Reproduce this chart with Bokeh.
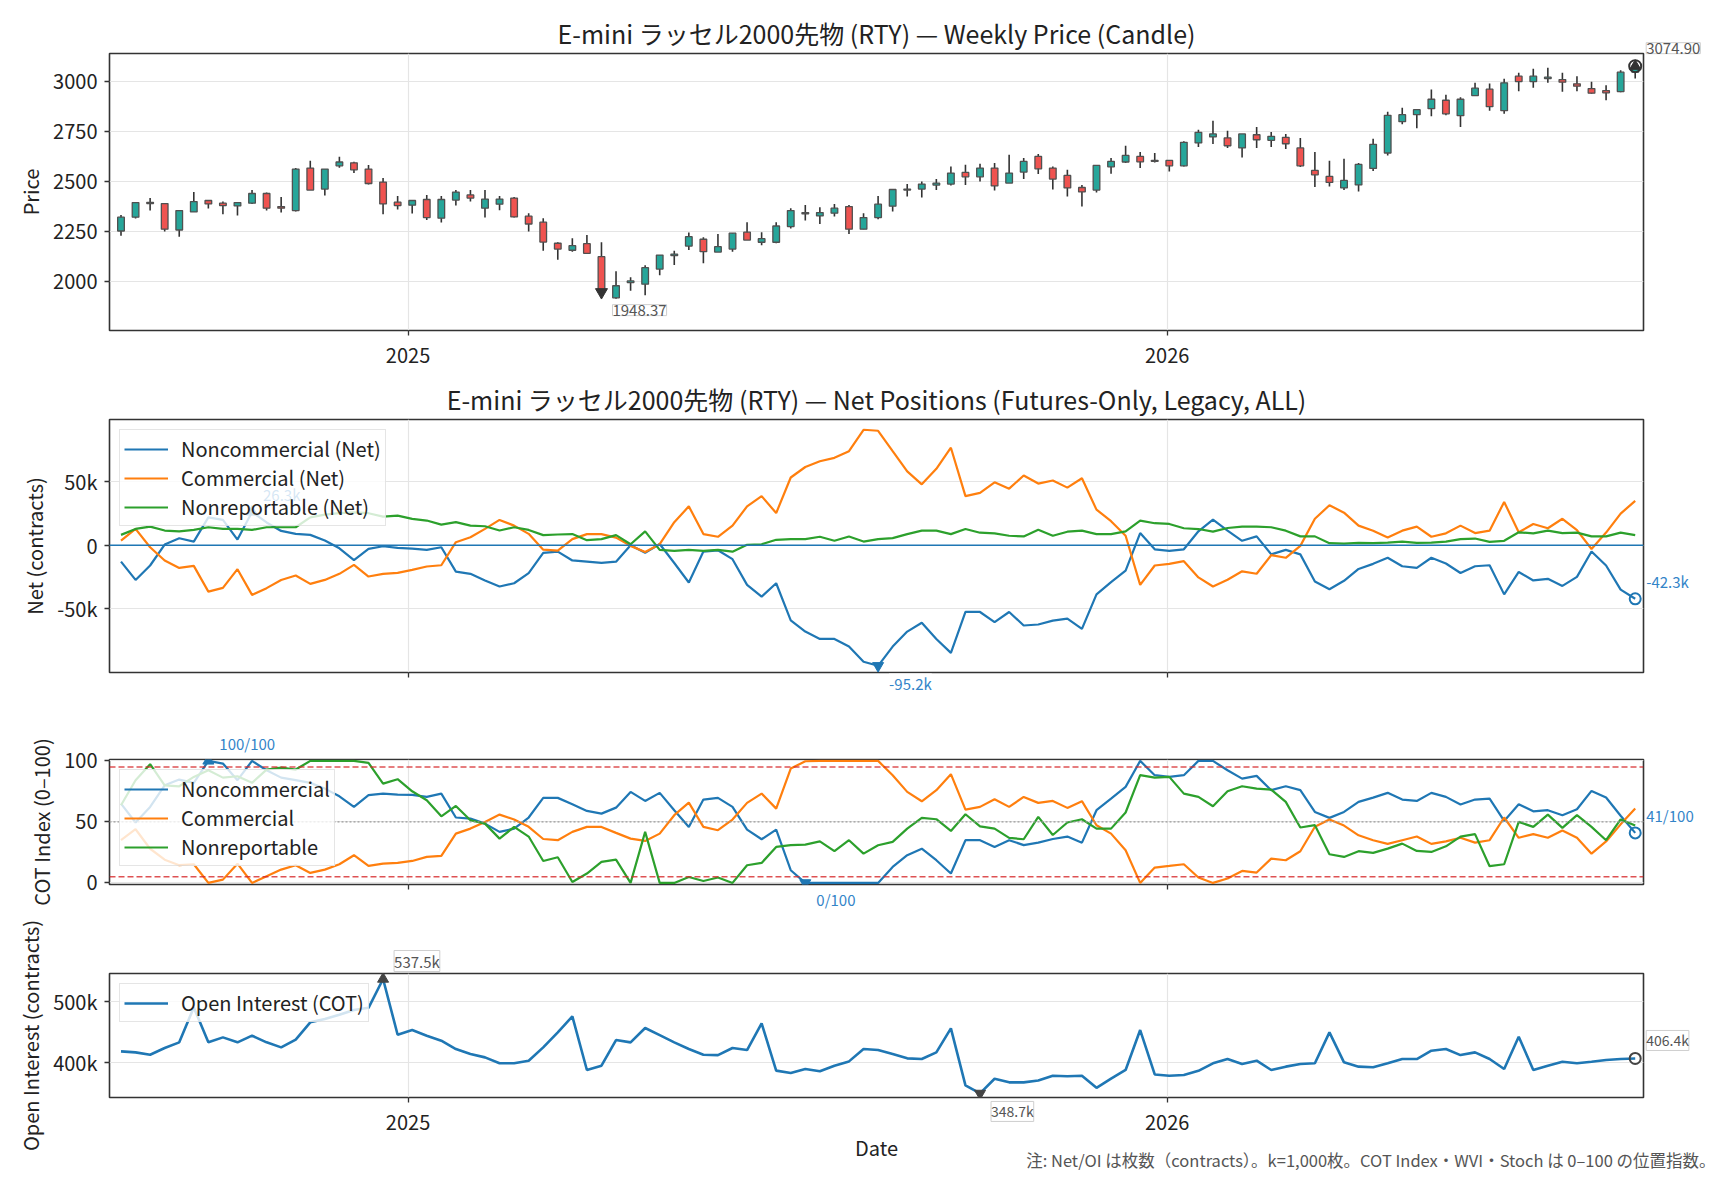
import numpy as np
import pandas as pd
from bokeh.plotting import figure
from bokeh.layouts import column
from bokeh.models import (Range1d, FixedTicker, Label, Legend, LegendItem, Span,
                          DatetimeTickFormatter, CustomJSTickFormatter)
from bokeh.embed import file_html
from bokeh.resources import INLINE

FONT = "Noto Sans CJK JP"
BLUE, ORANGE, GREEN = "#1f77b4", "#ff7f0e", "#2ca02c"
UP, DOWN = "#26a69a", "#ef5350"
LBL_BLUE = "#3384c8"

# weekly bars
week_start = "2024-08-16"
n_weeks = 105
year_ticks = ["2025-01-01", "2026-01-01"]

price_open = [2253, 2322, 2396, 2390, 2258, 2348, 2405, 2392, 2378, 2392,
              2440, 2375, 2355, 2567, 2462, 2578, 2593, 2562, 2497, 2397,
              2382, 2410, 2317, 2407, 2433, 2367, 2387, 2417, 2327, 2297,
              2192, 2157, 2190, 2125, 1920, 1996, 1988, 2063, 2130, 2178,
              2212, 2148, 2163, 2247, 2197, 2197, 2275, 2345, 2328, 2342,
              2375, 2262, 2320, 2377, 2457, 2462, 2482, 2487, 2545, 2523,
              2567, 2492, 2547, 2625, 2567, 2530, 2470, 2457, 2573, 2597,
              2625, 2605, 2605, 2578, 2692, 2722, 2717, 2667, 2733, 2705,
              2720, 2667, 2555, 2525, 2468, 2483, 2565, 2642, 2798, 2833,
              2863, 2905, 2828, 2928, 2960, 2853, 3025, 2998, 3013, 3008,
              2987, 2963, 2953, 2948, 3045]
price_high = [2333, 2398, 2417, 2393, 2355, 2447, 2408, 2400, 2395, 2458,
              2445, 2422, 2567, 2603, 2562, 2623, 2598, 2582, 2517, 2428,
              2405, 2433, 2428, 2458, 2458, 2458, 2428, 2422, 2342, 2317,
              2197, 2217, 2233, 2197, 2053, 2022, 2082, 2133, 2155, 2245,
              2222, 2238, 2242, 2297, 2247, 2297, 2367, 2383, 2372, 2388,
              2383, 2342, 2428, 2460, 2487, 2500, 2512, 2575, 2583, 2588,
              2592, 2633, 2617, 2637, 2575, 2558, 2483, 2580, 2617, 2678,
              2647, 2642, 2605, 2700, 2758, 2803, 2753, 2737, 2772, 2747,
              2737, 2717, 2647, 2603, 2613, 2592, 2713, 2847, 2867, 2858,
              2958, 2932, 2920, 2992, 2988, 3012, 3042, 3062, 3067, 3042,
              3025, 2997, 2980, 3055, 3082]
price_low = [2230, 2315, 2355, 2250, 2225, 2348, 2365, 2337, 2330, 2388,
             2355, 2345, 2350, 2457, 2430, 2568, 2542, 2485, 2337, 2360,
             2340, 2308, 2295, 2380, 2400, 2320, 2357, 2320, 2250, 2155,
             2110, 2150, 2138, 1940, 1915, 1955, 1933, 2033, 2083, 2158,
             2092, 2148, 2150, 2208, 2182, 2192, 2265, 2305, 2288, 2325,
             2238, 2262, 2312, 2350, 2425, 2420, 2458, 2480, 2483, 2500,
             2455, 2492, 2512, 2537, 2460, 2425, 2375, 2445, 2538, 2592,
             2567, 2595, 2550, 2575, 2672, 2687, 2667, 2620, 2667, 2672,
             2662, 2572, 2472, 2475, 2457, 2450, 2552, 2630, 2785, 2765,
             2825, 2830, 2772, 2928, 2852, 2837, 2950, 2967, 2992, 2947,
             2950, 2937, 2905, 2945, 3013]
price_close = [2322, 2395, 2390, 2262, 2355, 2400, 2388, 2380, 2395, 2440,
               2367, 2367, 2562, 2457, 2562, 2597, 2558, 2490, 2388, 2380,
               2405, 2320, 2410, 2447, 2417, 2412, 2412, 2323, 2288, 2198,
               2163, 2180, 2142, 1948.37, 1980, 2004, 2070, 2133, 2138, 2225,
               2150, 2175, 2242, 2208, 2215, 2278, 2355, 2338, 2345, 2367,
               2262, 2320, 2387, 2460, 2462, 2487, 2492, 2542, 2523, 2567,
               2478, 2542, 2600, 2563, 2512, 2468, 2448, 2580, 2600, 2630,
               2598, 2600, 2578, 2695, 2745, 2737, 2678, 2737, 2708, 2725,
               2688, 2578, 2533, 2495, 2505, 2585, 2685, 2830, 2833, 2858,
               2910, 2837, 2910, 2965, 2873, 2992, 2998, 3025, 3020, 2995,
               2975, 2940, 2942, 3045, 3074.90]

# net positions, thousand contracts
noncomm_net = [-12.9, -27.4, -16.0, 0.5, 5.5, 2.9, 22.0, 20.0, 4.5, 26.3,
               18.0, 11.3, 9.0, 8.2, 3.7, -2.4, -11.8, -2.9, -0.8, -2.1,
               -2.6, -3.7, -1.6, -20.8, -22.6, -27.9, -32.6, -30.0, -22.0, -6.0,
               -5.0, -12.0, -13.0, -14.0, -13.0, 0.0, -6.0, 1.0, -14.0, -29.4,
               -5.0, -4.0, -11.0, -31.3, -40.6, -30.0, -59.4, -68.2, -74.0, -74.0,
               -80.0, -92.0, -95.2, -80.0, -68.2, -61.2, -74.0, -85.0, -52.7, -52.7,
               -60.7, -52.7, -63.4, -62.6, -59.5, -58.0, -66.0, -38.8, -29.1, -20.1,
               9.6, -3.2, -4.5, -3.2, 11.0, 20.3, 11.5, 3.5, 7.0, -7.2,
               -3.7, -7.2, -28.6, -34.8, -28.1, -18.7, -14.7, -9.9, -16.6, -17.9,
               -9.9, -14.4, -21.9, -16.6, -15.8, -38.8, -21.1, -27.8, -26.5, -32.1,
               -25.0, -5.0, -16.0, -35.0, -42.3]
comm_net = [3.7, 12.9, -1.6, -12.1, -17.9, -16.3, -36.6, -33.7, -18.9, -39.2,
            -33.9, -27.4, -23.9, -30.5, -27.4, -22.6, -15.5, -24.7, -22.6, -21.8,
            -19.5, -16.8, -15.8, 2.4, 6.3, 12.9, 20.0, 15.5, 9.0, -3.5,
            -4.3, 4.8, 8.8, 8.8, 6.0, -0.5, -5.3, 0.8, 18.2, 30.7,
            8.8, 6.7, 15.5, 30.7, 38.8, 25.4, 53.5, 61.8, 66.3, 69.0,
            74.3, 91.2, 90.4, 74.3, 58.3, 48.1, 60.4, 77.0, 38.8, 41.4,
            49.7, 44.7, 55.1, 48.7, 51.1, 45.5, 52.9, 28.1, 19.0, 7.5,
            -31.3, -16.0, -14.7, -12.6, -25.4, -32.6, -27.3, -20.6, -22.5, -7.8,
            -9.9, -0.5, 20.9, 31.6, 25.7, 15.5, 11.5, 6.1, 11.5, 14.7,
            6.7, 9.4, 15.5, 9.6, 11.5, 34.2, 10.2, 16.8, 13.4, 20.9,
            12.0, -3.0, 10.0, 25.0, 35.0]
nonrep_net = [8.2, 12.9, 14.7, 11.6, 11.0, 12.1, 14.2, 12.9, 12.9, 12.1,
              14.2, 14.2, 14.2, 22.0, 24.2, 25.3, 26.0, 25.3, 22.6, 23.4,
              20.8, 19.5, 16.3, 18.2, 15.5, 15.0, 11.6, 14.2, 12.1, 8.0,
              8.5, 8.8, 4.0, 4.8, 8.0, 0.8, 11.0, -3.7, -4.5, -3.7,
              -4.5, -3.7, -5.1, 0.3, 0.8, 4.3, 4.8, 4.8, 6.7, 3.5,
              6.9, 2.9, 4.8, 5.6, 8.8, 11.5, 11.5, 8.8, 12.8, 9.9,
              9.4, 7.5, 7.0, 12.3, 7.5, 10.7, 11.5, 8.8, 8.8, 11.0,
              19.5, 17.4, 16.8, 13.4, 12.8, 10.7, 13.6, 14.7, 14.7, 14.2,
              11.5, 7.0, 7.0, 1.6, 1.3, 1.9, 1.6, 2.1, 2.9, 1.9,
              2.1, 2.9, 4.8, 5.3, 2.7, 3.5, 10.2, 9.4, 11.5, 9.6,
              10.0, 7.0, 7.0, 10.0, 8.0]

# COT index 0-100
noncomm_idx = [65.0, 49.5, 62.3, 80.0, 84.7, 82.0, 100.0, 97.8, 84.2, 100.0,
               92.3, 86.3, 84.2, 82.0, 77.3, 71.0, 62.3, 71.9, 73.2, 72.4,
               72.1, 70.5, 73.2, 53.6, 52.7, 48.6, 41.8, 44.5, 53.6, 69.7,
               69.7, 64.5, 59.0, 56.8, 61.7, 74.6, 67.2, 73.8, 59.6, 45.9,
               68.3, 69.7, 62.3, 43.7, 35.8, 43.7, 10.4, 0.0, 0.0, 0.0,
               0.0, 0.0, 0.0, 13.1, 22.7, 28.1, 18.6, 7.7, 35.0, 35.0,
               29.5, 35.0, 31.0, 33.0, 36.0, 38.0, 33.0, 59.6, 69.1, 78.7,
               100.0, 88.3, 86.9, 88.3, 100.0, 100.0, 92.3, 85.5, 87.7, 76.0,
               79.2, 76.0, 58.2, 53.3, 58.2, 66.4, 69.9, 73.8, 68.3, 67.2,
               73.8, 70.5, 64.2, 68.3, 69.1, 50.8, 64.5, 58.7, 59.6, 55.5,
               60.4, 75.4, 70.0, 55.0, 41.0]
comm_idx = [35.0, 44.0, 28.0, 19.0, 14.5, 15.3, 0.0, 2.7, 15.8, 0.0,
            5.5, 10.9, 14.5, 8.2, 10.9, 15.3, 22.7, 13.9, 15.8, 16.4,
            18.0, 21.3, 22.1, 40.4, 44.5, 50.0, 56.0, 52.0, 46.0, 36.0,
            35.0, 41.8, 45.9, 45.9, 41.0, 36.3, 34.4, 40.4, 55.5, 65.8,
            45.9, 43.2, 51.9, 65.6, 73.2, 60.9, 93.7, 99.7, 100.0, 100.0,
            100.0, 100.0, 100.0, 88.3, 74.6, 66.9, 76.0, 89.1, 60.1, 62.3,
            68.6, 62.3, 70.5, 65.6, 67.2, 61.5, 67.0, 47.3, 40.4, 26.8,
            0.0, 12.6, 13.9, 15.3, 4.4, 0.0, 3.6, 9.8, 8.5, 19.9,
            18.6, 26.0, 46.0, 52.0, 47.0, 39.0, 35.0, 32.0, 35.0, 38.0,
            32.0, 34.0, 37.0, 33.0, 35.0, 53.6, 37.0, 40.0, 37.0, 43.0,
            37.0, 24.0, 34.0, 48.0, 61.0]
nonrep_idx = [63.7, 84.2, 97.3, 80.0, 79.2, 86.9, 92.3, 86.3, 87.4, 82.0,
              92.9, 94.5, 92.9, 100.0, 100.0, 100.0, 100.0, 98.4, 81.4, 85.0,
              75.1, 67.8, 54.6, 63.1, 51.4, 48.6, 36.3, 45.9, 38.0, 18.0,
              21.0, 0.8, 7.7, 17.2, 19.1, 0.0, 41.8, 0.0, 0.0, 4.9,
              1.6, 4.4, 0.0, 14.5, 16.4, 29.5, 30.9, 31.4, 34.0, 26.0,
              35.0, 24.0, 30.9, 33.6, 44.5, 53.3, 52.2, 42.6, 56.3, 46.4,
              44.5, 36.9, 35.8, 54.1, 39.3, 49.5, 52.2, 44.5, 44.5, 57.7,
              88.3, 86.3, 86.9, 73.2, 70.5, 62.8, 75.1, 79.2, 77.3, 76.5,
              66.4, 45.4, 47.3, 23.5, 21.3, 26.0, 24.6, 28.1, 32.2, 26.2,
              25.4, 30.0, 38.0, 40.0, 13.7, 15.3, 50.0, 45.9, 56.0, 45.1,
              55.5, 45.9, 35.0, 52.0, 47.0]

# open interest, thousand contracts
open_interest = [418.1, 416.5, 412.6, 423.6, 433.0, 490.7, 433.0, 441.2, 433.0, 444.0,
                 433.0, 424.7, 437.4, 466.0, 471.4, 478.6, 486.3, 490.0, 537.5, 445.6,
                 453.3, 444.0, 435.7, 422.0, 413.7, 408.2, 398.4, 398.4, 402.7, 424.7,
                 449.5, 475.8, 387.4, 394.5, 436.8, 433.0, 456.6, 445.0, 433.0, 422.0,
                 412.6, 412.0, 423.6, 420.3, 464.3, 386.3, 382.4, 389.0, 385.2, 394.5,
                 401.6, 422.0, 420.3, 413.7, 406.6, 405.5, 416.5, 456.0, 362.0, 348.7,
                 373.0, 367.0, 367.0, 370.0, 378.0, 377.0, 378.0, 358.0, 373.0, 387.4,
                 453.3, 380.0, 378.0, 379.0, 386.0, 398.4, 405.5, 397.3, 402.7, 387.4,
                 392.9, 397.3, 398.4, 449.5, 400.0, 392.9, 391.8, 398.4, 405.5, 405.5,
                 419.2, 422.0, 412.0, 416.5, 405.5, 389.0, 442.3, 387.4, 394.5, 401.1,
                 398.4, 401.0, 404.0, 405.5, 406.4]

footnote = "注: Net/OI は枚数（contracts）。k=1,000枚。COT Index・WVI・Stoch は 0–100 の位置指数。"

dates = pd.date_range(week_start, periods=n_weeks, freq="7D")
x = dates.values.astype("datetime64[ms]").astype(np.int64).astype(float)
DAY = 86400000.0
WEEK = 7 * DAY
x_range = Range1d(x[0] - 0.79 * WEEK, x[-1] + 0.57 * WEEK)
year_ms = [float(pd.Timestamp(t).value // 10**6) for t in year_ticks]

kfmt = "return tick == 0 ? '0' : tick + 'k';"


def make_fig(frame_h, top, bottom, y_lo, y_hi, yticks, title=None, xlabels=False):
    p = figure(frame_width=1534, frame_height=frame_h, x_axis_type="datetime",
               x_range=x_range, y_range=Range1d(y_lo, y_hi),
               min_border_left=109, min_border_right=85,
               min_border_top=top, min_border_bottom=bottom,
               toolbar_location=None, output_backend="svg", title=title,
               background_fill_color="white", border_fill_color="white")
    if title:
        p.title.text_font = FONT
        p.title.text_font_size = "25px"
        p.title.text_font_style = "normal"
        p.title.text_color = "#222222"
        p.title.align = "center"
        p.title.standoff = 6
    p.outline_line_color = "#333333"
    p.outline_line_width = 1.6
    for ax in list(p.xaxis) + list(p.yaxis):
        ax.axis_line_color = None
        ax.major_tick_line_color = "#333333"
        ax.major_tick_line_width = 1.3
        ax.major_tick_in = 0
        ax.major_tick_out = 5
        ax.minor_tick_line_color = None
        ax.major_label_text_font = FONT
        ax.major_label_text_font_size = "20px"
        ax.major_label_text_color = "#222222"
        ax.axis_label_text_font = FONT
        ax.axis_label_text_font_size = "20px"
        ax.axis_label_text_font_style = "normal"
        ax.axis_label_text_color = "#222222"
    if xlabels:
        p.xaxis.ticker = FixedTicker(ticks=year_ms)
        p.xaxis.formatter = DatetimeTickFormatter(
            milliseconds="%Y", seconds="%Y", minsec="%Y", minutes="%Y", hourmin="%Y",
            hours="%Y", days="%Y", months="%Y", years="%Y")
        p.xaxis.major_label_standoff = 12
    else:
        # tick marks only, no labels
        p.xaxis.ticker = FixedTicker(ticks=[], minor_ticks=year_ms)
        p.xaxis.minor_tick_line_color = "#333333"
        p.xaxis.minor_tick_line_width = 1.3
        p.xaxis.minor_tick_in = 0
        p.xaxis.minor_tick_out = 5
    p.xgrid.ticker = FixedTicker(ticks=year_ms)
    p.yaxis.ticker = FixedTicker(ticks=yticks)
    p.yaxis.major_label_standoff = 7
    p.xgrid.grid_line_color = "#e5e5e5"
    p.ygrid.grid_line_color = "#e5e5e5"
    p.xgrid.grid_line_width = 1.2
    p.ygrid.grid_line_width = 1.2
    return p


def note(p, xi, yi, text, dy, color, place="center", boxed=False, size="15px"):
    lab = Label(x=xi, y=yi, x_offset=11, y_offset=dy, text=text,
                text_font=FONT, text_font_size=size, text_color=color,
                text_align="left", text_baseline="middle",
                background_fill_color="white", background_fill_alpha=0.7)
    if boxed:
        lab.border_line_color = "#cfcfcf"
        lab.border_line_width = 1
    p.add_layout(lab, place)


def add_legend(p, items):
    lg = Legend(items=[LegendItem(label=t, renderers=[r]) for t, r in items],
                location="top_left", label_text_font=FONT, label_text_font_size="20px",
                label_text_color="#222222", glyph_width=44, glyph_height=26,
                label_height=26, label_standoff=13, spacing=0, padding=4, margin=10,
                border_line_color="#cccccc", border_line_width=1.3,
                background_fill_color="white", background_fill_alpha=0.8)
    p.add_layout(lg)


# ---- price candles
po, ph, pl, pc = (np.array(a, dtype=float) for a in (price_open, price_high, price_low, price_close))
up = pc >= po
dn = ~up

p1 = make_fig(277, 53, 44, 1757, 3138, [2000, 2250, 2500, 2750, 3000],
              title="E-mini ラッセル2000先物 (RTY) — Weekly Price (Candle)", xlabels=True)
p1.yaxis.axis_label = "Price"
p1.segment(x0=x, y0=pl, x1=x, y1=ph, line_color="#333333", line_width=1.6)
p1.vbar(x=x[up], width=3.2 * DAY, bottom=po[up], top=pc[up],
        fill_color=UP, line_color="#505050", line_width=1.3)
p1.vbar(x=x[dn], width=3.2 * DAY, bottom=pc[dn], top=po[dn],
        fill_color=DOWN, line_color="#505050", line_width=1.3)

i_lo, i_hi = int(np.argmin(pc)), int(np.argmax(pc))
p1.scatter([x[i_lo]], [pc[i_lo]], marker="inverted_triangle", size=12, color="#333333")
p1.scatter([x[i_hi]], [pc[i_hi]], marker="triangle", size=11, color="#333333")
p1.scatter([x[-1]], [pc[-1]], marker="circle", size=12, fill_color=None,
           line_color="#333333", line_width=2)
note(p1, x[i_lo], pc[i_lo], f"{pc[i_lo]:.2f}", -18, "#555555", boxed=True)
note(p1, x[i_hi], pc[i_hi], f"{pc[i_hi]:.2f}", 18, "#555555", place="right", boxed=True)

# ---- net positions
nc, cm, nr = (np.array(a, dtype=float) for a in (noncomm_net, comm_net, nonrep_net))
p2 = make_fig(253, 45, 36, -100.5, 99.3, [-50, 0, 50],
              title="E-mini ラッセル2000先物 (RTY) — Net Positions (Futures-Only, Legacy, ALL)")
p2.yaxis.axis_label = "Net (contracts)"
p2.yaxis.formatter = CustomJSTickFormatter(code=kfmt)
p2.add_layout(Span(location=0, dimension="width", line_color=BLUE, line_width=1.4))
r_nc = p2.line(x, nc, line_color=BLUE, line_width=2.2)
r_cm = p2.line(x, cm, line_color=ORANGE, line_width=2.2)
r_nr = p2.line(x, nr, line_color=GREEN, line_width=2.2)
j_lo, j_hi = int(np.argmin(nc)), int(np.argmax(nc))
p2.scatter([x[j_lo]], [nc[j_lo]], marker="inverted_triangle", size=11, color=BLUE)
p2.scatter([x[j_hi]], [nc[j_hi]], marker="triangle", size=11, color=BLUE)
p2.scatter([x[-1]], [nc[-1]], marker="circle", size=11, fill_color=None,
           line_color=BLUE, line_width=2)
note(p2, x[j_lo], nc[j_lo], f"{nc[j_lo]:.1f}k", -18, LBL_BLUE, place="below")
note(p2, x[j_hi], nc[j_hi], f"{nc[j_hi]:.1f}k", 17, LBL_BLUE)
note(p2, x[-1], nc[-1], f"{nc[-1]:.1f}k", 17, LBL_BLUE, place="right")
add_legend(p2, [("Noncommercial (Net)", r_nc), ("Commercial (Net)", r_cm),
                ("Nonreportable (Net)", r_nr)])

# ---- COT index
ci_nc, ci_cm, ci_nr = (np.array(a, dtype=float) for a in (noncomm_idx, comm_idx, nonrep_idx))
p3 = make_fig(125, 51, 28, -1.3, 101.15, [0, 50, 100])
p3.yaxis.axis_label = "COT Index (0–100)"
for lvl in (95, 5):
    p3.add_layout(Span(location=lvl, dimension="width", line_color="#d62728",
                       line_alpha=0.8, line_width=1.6, line_dash="6 3"))
p3.add_layout(Span(location=50, dimension="width", line_color="#999999",
                   line_width=1.3, line_dash="2 2"))
q_nc = p3.line(x, ci_nc, line_color=BLUE, line_width=2.2)
q_cm = p3.line(x, ci_cm, line_color=ORANGE, line_width=2.2)
q_nr = p3.line(x, ci_nr, line_color=GREEN, line_width=2.2)
k_lo, k_hi = int(np.argmin(ci_nc)), int(np.argmax(ci_nc))
p3.scatter([x[k_lo]], [ci_nc[k_lo]], marker="inverted_triangle", size=11, color=BLUE)
p3.scatter([x[k_hi]], [ci_nc[k_hi]], marker="triangle", size=11, color=BLUE)
p3.scatter([x[-1]], [ci_nc[-1]], marker="circle", size=11, fill_color=None,
           line_color=BLUE, line_width=2)
note(p3, x[k_lo], ci_nc[k_lo], f"{ci_nc[k_lo]:.0f}/100", -17, LBL_BLUE, place="above")
note(p3, x[k_hi], ci_nc[k_hi], f"{ci_nc[k_hi]:.0f}/100", 17, LBL_BLUE, place="above")
note(p3, x[-1], ci_nc[-1], f"{ci_nc[-1]:.0f}/100", 17, LBL_BLUE, place="right")
add_legend(p3, [("Noncommercial", q_nc), ("Commercial", q_cm), ("Nonreportable", q_nr)])

# ---- open interest
oi = np.array(open_interest, dtype=float)
p4 = make_fig(124, 61, 81, 342.0, 546.6, [400, 500], xlabels=True)
p4.yaxis.axis_label = "Open Interest (contracts)"
p4.yaxis.formatter = CustomJSTickFormatter(code=kfmt)
p4.xaxis.axis_label = "Date"
p4.xaxis.axis_label_standoff = 0
r_oi = p4.line(x, oi, line_color=BLUE, line_width=2.6)
m_lo, m_hi = int(np.argmin(oi)), int(np.argmax(oi))
p4.scatter([x[m_lo]], [oi[m_lo]], marker="inverted_triangle", size=11, color="#444444")
p4.scatter([x[m_hi]], [oi[m_hi]], marker="triangle", size=11, color="#444444")
p4.scatter([x[-1]], [oi[-1]], marker="circle", size=11, fill_color=None,
           line_color="#444444", line_width=2)
note(p4, x[m_lo], oi[m_lo], f"{oi[m_lo]:.1f}k", -18, "#555555", place="right",
     boxed=True, size="14px")
note(p4, x[m_hi], oi[m_hi], f"{oi[m_hi]:.1f}k", 18, "#555555", place="above", boxed=True)
note(p4, x[-1], oi[-1], f"{oi[-1]:.1f}k", 18, "#555555", place="right",
     boxed=True, size="14px")
p4.add_layout(Label(x=x_range.end, y=342.0, x_offset=72, y_offset=-62, text=footnote,
                    text_font=FONT, text_font_size="16.5px", text_color="#555555",
                    text_align="right", text_baseline="middle"), "above")
add_legend(p4, [("Open Interest (COT)", r_oi)])

layout = column(p1, p2, p3, p4)
open("out.html", "w", encoding="utf-8").write(file_html(layout, INLINE))
